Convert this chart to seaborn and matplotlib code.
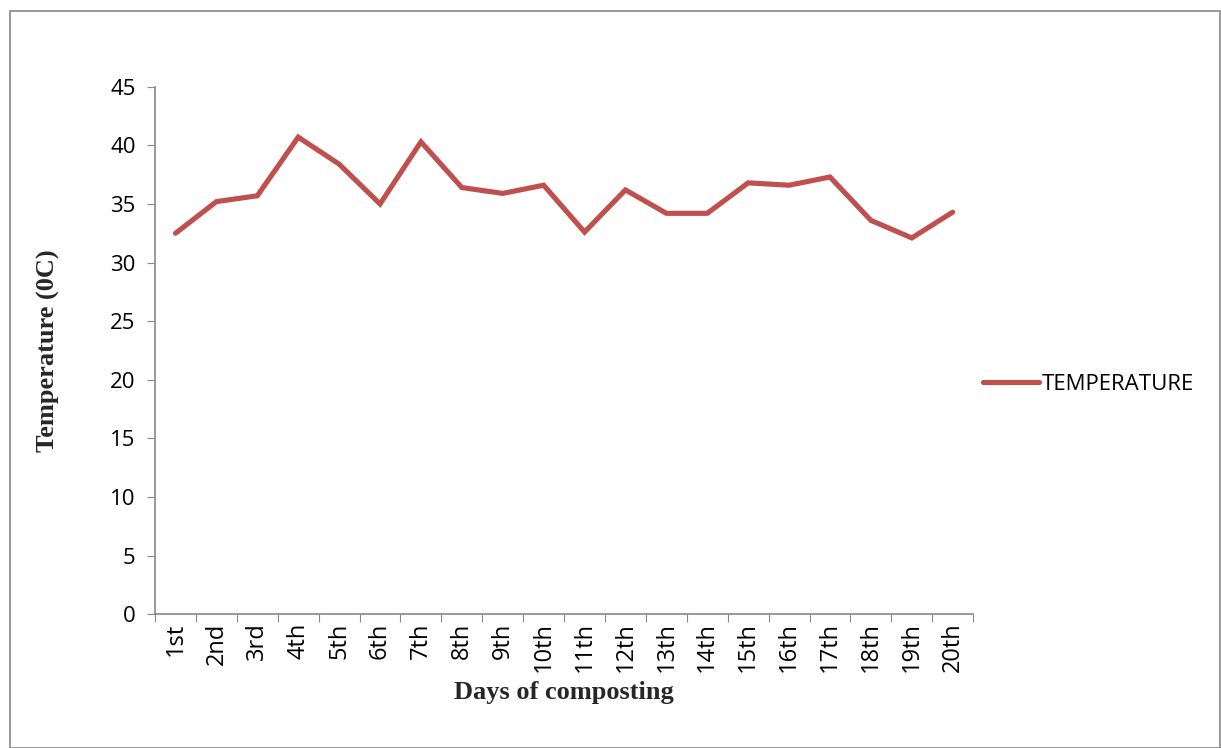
import pandas as pd
import seaborn as sns
from matplotlib import pyplot as plt
from matplotlib.patches import Rectangle

# data
days = ['1st', '2nd', '3rd', '4th', '5th', '6th', '7th', '8th', '9th', '10th',
        '11th', '12th', '13th', '14th', '15th', '16th', '17th', '18th', '19th', '20th']
temperature = [32.5, 35.2, 35.7, 40.7, 38.4, 35.0, 40.3, 36.4, 35.9, 36.6,
               32.6, 36.2, 34.2, 34.2, 36.8, 36.6, 37.3, 33.6, 32.1, 34.3]

df = pd.DataFrame({'day': days, 'TEMPERATURE': temperature})
df['pos'] = range(len(days))

sns.set_style('white')
plt.rcParams['font.family'] = ['Open Sans', 'DejaVu Sans']
plt.rcParams['text.color'] = 'black'
plt.rcParams['xtick.labelcolor'] = 'black'
plt.rcParams['ytick.labelcolor'] = 'black'

fig = plt.figure(figsize=(12.21, 7.48), dpi=100)
ax = fig.add_axes([0.127, 0.179, 0.670, 0.705])

# outer chart border
fig.patches.append(Rectangle((0.008, 0.0), 0.991, 0.985, transform=fig.transFigure,
                             fill=False, edgecolor='#888888', linewidth=1.2))

sns.lineplot(data=df, x='pos', y='TEMPERATURE', ax=ax, color='#C0504D',
             linewidth=3.7, label='TEMPERATURE', solid_capstyle='round',
             solid_joinstyle='miter')

ax.set_xlim(-0.5, len(days) - 0.5)
ax.set_ylim(0, 45)
ax.set_yticks(range(0, 46, 5))
ax.set_yticklabels([str(v) for v in range(0, 46, 5)], fontsize=16)
ax.set_xticks([i - 0.5 for i in range(len(days) + 1)], minor=False)
ax.set_xticklabels([])
ax.set_xticks(range(len(days)), minor=True)
ax.set_xticklabels(days, minor=True, rotation=90, fontsize=17)
ax.tick_params(axis='x', which='minor', length=0, pad=6)
ax.tick_params(axis='x', which='major', length=6, color='#888888', direction='out')
ax.tick_params(axis='y', length=6, color='#888888', direction='out', pad=8)
ax.tick_params(bottom=True, left=True)

for s in ['top', 'right']:
    ax.spines[s].set_visible(False)
for s in ['left', 'bottom']:
    ax.spines[s].set_color('#888888')
    ax.spines[s].set_linewidth(1.2)

ax.set_xlabel('Days of composting', fontsize=19, fontweight='bold',
              family='Liberation Serif', labelpad=6)
ax.set_ylabel('Temperature (0C)', fontsize=19, fontweight='bold',
              family='Liberation Serif', labelpad=36)

ax.legend(loc='center left', bbox_to_anchor=(0.988, 0.436), frameon=False,
          fontsize=16, handlelength=2.5, handletextpad=0.15)

fig.savefig('out.png', dpi=100)
